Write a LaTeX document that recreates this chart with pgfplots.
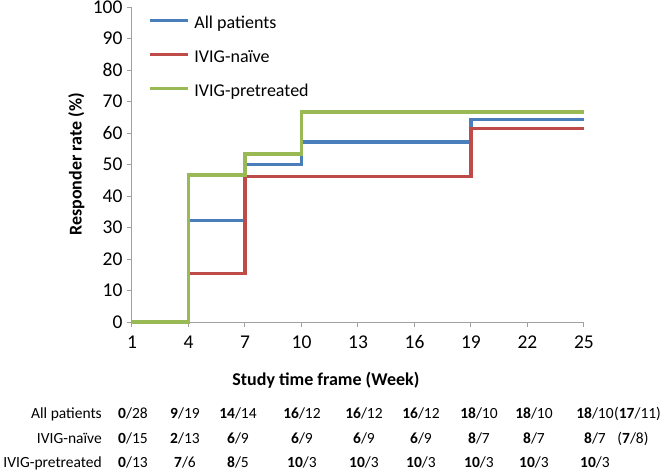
\documentclass[border=0pt]{standalone}
\usepackage{pgfplots}
\pgfplotsset{compat=1.18}
\usepackage{fontspec}
\setmainfont{Carlito}
\definecolor{cblue}{RGB}{74,126,187}
\definecolor{cred}{RGB}{190,75,72}
\definecolor{cgreen}{RGB}{152,185,84}
\definecolor{axgray}{RGB}{160,160,160}
\newcommand{\rr}[2]{\textbf{#1}/#2}
\begin{document}
\begin{tikzpicture}
\path[use as bounding box] (-132pt,-150pt) rectangle (532pt,322pt);
\begin{axis}[
  at={(0pt,0pt)}, anchor=south west, scale only axis,
  x=18.833pt, y=3.15pt,
  xmin=1, xmax=25, ymin=0, ymax=100,
  axis x line*=bottom, axis y line*=left,
  axis line style={axgray, line width=1pt},
  xtick={1,4,...,25}, ytick={0,10,...,100},
  tick align=outside, major tick length=5pt,
  tick style={axgray, line width=1pt},
  ticklabel style={font=\fontsize{19.5}{22}\selectfont, text=black},
  xticklabel style={yshift=-5pt},
  yticklabel style={xshift=-1pt},
  /pgf/number format/assume math mode=true,
  clip=false,
  xlabel={Study time frame (Week)},
  ylabel={Responder rate (\%)},
  xlabel style={at={(axis description cs:0.429,-0.184)}, anchor=center, font=\bfseries\fontsize{18}{21}\selectfont},
  ylabel style={at={(axis description cs:-0.123,0.5)}, anchor=center, font=\bfseries\fontsize{18}{21}\selectfont},
  legend style={at={(axis cs:1.85,97.0)}, anchor=north west, draw=none, fill=none,
    font=\fontsize{18}{21}\selectfont, row sep=18pt, column sep=5pt, inner sep=0pt,
    nodes={inner sep=0pt, text height=12pt, text depth=4pt, anchor=west}},
  legend cell align=left,
  legend image code/.code={\draw[#1, line width=3.2pt] (0pt,4pt) -- (38pt,4pt);},
]
\addplot[const plot, cblue, line width=3.2pt] coordinates {(1,0) (4,32.14) (7,50) (10,57.14) (19,64.29) (25,64.29)};
\addlegendentry{All patients}
\addplot[const plot, cred, line width=3.2pt] coordinates {(1,0) (4,15.38) (7,46.15) (19,61.54) (25,61.54)};
\addlegendentry{IVIG-naïve}
\addplot[const plot, cgreen, line width=3.2pt] coordinates {(1,0) (4,46.67) (7,53.33) (10,66.67) (25,66.67)};
\addlegendentry{IVIG-pretreated}
\end{axis}
\begin{scope}[every node/.style={font=\fontsize{15.5}{18}\selectfont, inner sep=0pt}]
% row labels
\node[anchor=base east] at (-30pt,-96pt) {All patients};
\node[anchor=base east] at (-30pt,-121pt) {IVIG-naïve};
\node[anchor=base east] at (-30pt,-145pt) {IVIG-pretreated};
% All patients
\node[anchor=base] at (1pt,-96pt) {\rr{0}{28}};
\node[anchor=base] at (53pt,-96pt) {\rr{9}{19}};
\node[anchor=base] at (106pt,-96pt) {\rr{14}{14}};
\node[anchor=base] at (170pt,-96pt) {\rr{16}{12}};
\node[anchor=base] at (232pt,-96pt) {\rr{16}{12}};
\node[anchor=base] at (289pt,-96pt) {\rr{16}{12}};
\node[anchor=base] at (347pt,-96pt) {\rr{18}{10}};
\node[anchor=base] at (402pt,-96pt) {\rr{18}{10}};
\node[anchor=base] (last) at (463pt,-96pt) {\rr{18}{10}};
\node[anchor=base west] at (last.base east) {(\rr{17}{11})};
% IVIG-naive
\node[anchor=base] at (1pt,-121pt) {\rr{0}{15}};
\node[anchor=base] at (53pt,-121pt) {\rr{2}{13}};
\node[anchor=base] at (106pt,-121pt) {\rr{6}{9}};
\node[anchor=base] at (170pt,-121pt) {\rr{6}{9}};
\node[anchor=base] at (232pt,-121pt) {\rr{6}{9}};
\node[anchor=base] at (289pt,-121pt) {\rr{6}{9}};
\node[anchor=base] at (347pt,-121pt) {\rr{8}{7}};
\node[anchor=base] at (402pt,-121pt) {\rr{8}{7}};
\node[anchor=base] at (463pt,-121pt) {\rr{8}{7}};
\node[anchor=base] at (501pt,-121pt) {(\rr{7}{8})};
% IVIG-pretreated
\node[anchor=base] at (1pt,-145pt) {\rr{0}{13}};
\node[anchor=base] at (53pt,-145pt) {\rr{7}{6}};
\node[anchor=base] at (106pt,-145pt) {\rr{8}{5}};
\node[anchor=base] at (170pt,-145pt) {\rr{10}{3}};
\node[anchor=base] at (232pt,-145pt) {\rr{10}{3}};
\node[anchor=base] at (289pt,-145pt) {\rr{10}{3}};
\node[anchor=base] at (347pt,-145pt) {\rr{10}{3}};
\node[anchor=base] at (402pt,-145pt) {\rr{10}{3}};
\node[anchor=base] at (463pt,-145pt) {\rr{10}{3}};
\end{scope}
\end{tikzpicture}
\end{document}
